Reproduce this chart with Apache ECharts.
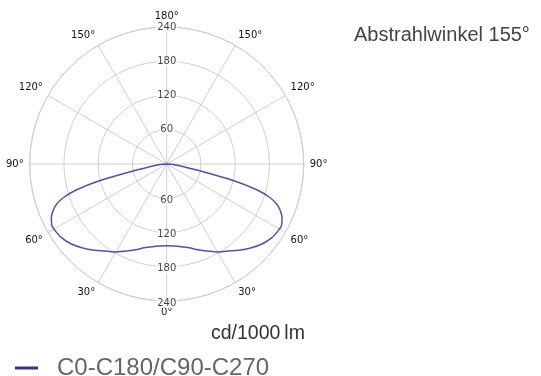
<!DOCTYPE html>
<html><head><meta charset="utf-8">
<script src="https://cdn.jsdelivr.net/npm/echarts@6/dist/echarts.min.js"></script>
<style>html,body{margin:0;padding:0;background:#fff}#c{width:541px;height:376px}</style>
</head><body><div id="c"></div>
<script>
// Photometric angles (deg, from nadir) and luminous intensity (cd/1000 lm), symmetric C0-C180/C90-C270
const gammaAngles = [0, 5, 10, 15, 20, 25, 30, 35, 40, 45, 50, 55, 60, 62, 65, 68, 70, 72, 74, 76, 78, 80, 85, 90];
const intensity   = [143, 144, 147, 152, 160, 168, 178, 186, 197, 208, 218, 225, 228, 228, 223, 214, 205, 190, 165, 120, 65, 35, 12, 0];
const ringValues = [60, 120, 180, 240];
const seriesName = 'C0-C180/C90-C270';
const titleText = 'Abstrahlwinkel 155°';
const unitText = 'cd/1000\u2009lm';

const curve = [];
for (let i = gammaAngles.length - 1; i >= 0; i--) curve.push([intensity[i], 360 - gammaAngles[i]]);
for (let i = 1; i < gammaAngles.length; i++) curve.push([intensity[i], gammaAngles[i]]);

const topLabels = ringValues.map(v => [v, 180]);
const bottomLabels = ringValues.map(v => [v, 0]);

const labelFont = { fontFamily: 'DejaVu Sans', fontSize: 10, color: '#111' };

const chart = echarts.init(document.getElementById('c'), null, { renderer: 'canvas' });
chart.setOption({
  animation: false,
  backgroundColor: '#fff',
  title: [
    { text: titleText, left: 349, top: 20, textStyle: { fontFamily: 'Liberation Sans', fontWeight: 'normal', fontSize: 20, color: '#444' } },
    { text: unitText, left: 206, top: 319, textStyle: { fontFamily: 'Liberation Sans', fontWeight: 'normal', fontSize: 19.5, color: '#333' } }
  ],
  legend: {
    left: 10, top: 351, icon: 'rect', itemWidth: 23, itemHeight: 3, itemGap: 10,
    textStyle: { fontFamily: 'Liberation Sans', fontSize: 24, color: '#666', padding: [0, 0, 0, 14] },
    data: [{ name: seriesName, itemStyle: { color: '#2b3590' } }]
  },
  polar: { center: [166.7, 164], radius: 137 },
  angleAxis: {
    type: 'value', min: 0, max: 360, interval: 30, startAngle: -90, clockwise: true,
    axisLine: { show: true, lineStyle: { color: '#cfcfcf', width: 1 } },
    axisTick: { show: false },
    splitLine: { show: true, lineStyle: { color: '#cfcfcf', width: 1 } },
    axisLabel: {
      margin: 6, ...labelFont,
      formatter: v => (v >= 360 ? '' : (v > 180 ? 360 - v : v) + '°')
    }
  },
  radiusAxis: {
    type: 'value', min: 0, max: 240, interval: 60,
    axisLine: { show: false }, axisTick: { show: false }, axisLabel: { show: false },
    splitLine: { show: true, lineStyle: { color: '#cfcfcf', width: 1 } }
  },
  series: [
    {
      name: seriesName, type: 'line', coordinateSystem: 'polar', data: curve,
      smooth: 0.3, symbol: 'none', z: 5,
      lineStyle: { color: '#5050b0', width: 1.5 }, itemStyle: { color: '#5050b0' }
    },
    {
      name: 'ringTop', type: 'scatter', coordinateSystem: 'polar', data: topLabels,
      symbolSize: 0, silent: true, z: 6,
      label: { show: true, position: 'inside', formatter: p => String(p.value[0]), backgroundColor: '#fff', padding: [0, 1], ...labelFont }
    },
    {
      name: 'ringBottom', type: 'scatter', coordinateSystem: 'polar', data: bottomLabels,
      symbolSize: 0, silent: true, z: 6,
      label: { show: true, position: 'inside', offset: [0, 2], formatter: p => String(p.value[0]), backgroundColor: '#fff', padding: [0, 1], ...labelFont }
    }
  ]
});
</script></body></html>
